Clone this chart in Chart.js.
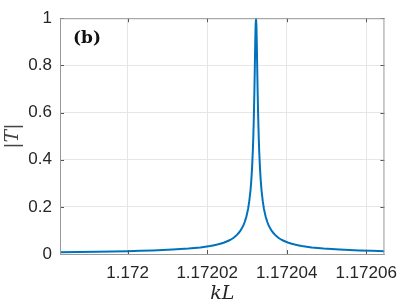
<!DOCTYPE html>
<html>
<head>
<meta charset="utf-8">
<script src="https://cdn.jsdelivr.net/npm/chart.js@4"></script>
<style>
    html, body { margin: 0; padding: 0; background: #fff; }
    #wrap { width: 407px; height: 307px; }
</style>
</head>
<body>
<div id="wrap"><canvas id="myChart" width="407" height="307"></canvas></div>
<script>
// values
const kL = [
    1.1719830, 1.1719923, 1.1720000, 1.1720063, 1.1720113, 1.1720153, 1.1720183,
    1.1720208, 1.1720228, 1.1720243, 1.1720255, 1.1720266, 1.1720275, 1.1720283,
    1.1720290, 1.1720295, 1.1720299, 1.1720303, 1.1720306, 1.1720309, 1.1720311,
    1.1720313, 1.1720315, 1.1720316, 1.1720317, 1.1720318, 1.1720319, 1.1720320,
    1.1720321, 1.1720322,
    1.1720323,
    1.1720324, 1.1720325, 1.1720326, 1.1720327, 1.1720328, 1.1720329, 1.1720330,
    1.1720331, 1.1720333, 1.1720335, 1.1720337, 1.1720340, 1.1720343, 1.1720347,
    1.1720351, 1.1720356, 1.1720363, 1.1720371, 1.1720380, 1.1720391, 1.1720403,
    1.1720418, 1.1720438, 1.1720463, 1.1720493, 1.1720533, 1.1720583, 1.1720646
];
const T = [
    0.0079, 0.0097, 0.0121, 0.0150, 0.0186, 0.0229, 0.0278,
    0.0339, 0.041, 0.0487, 0.0573, 0.068, 0.081, 0.097,
    0.117, 0.138, 0.160, 0.191, 0.224, 0.268, 0.309,
    0.363, 0.438, 0.487, 0.545, 0.615, 0.698, 0.793,
    0.890, 0.969,
    1.0,
    0.969, 0.890, 0.793, 0.698, 0.615, 0.545, 0.487,
    0.438, 0.363, 0.309, 0.268, 0.224, 0.191, 0.160,
    0.138, 0.117, 0.097, 0.081, 0.068, 0.0573, 0.0487,
    0.041, 0.0339, 0.0278, 0.0229, 0.0186, 0.0150, 0.0121
];
const xTicks = [1.172, 1.17202, 1.17204, 1.17206];
const yTicks = [0, 0.2, 0.4, 0.6, 0.8, 1];

const points = kL.map((x, i) => ({x: x, y: T[i]}));

// MATLAB style inward ticks + panel label
const extras = {
    id: 'extras',
    afterDraw(chart) {
        const ctx = chart.ctx;
        const a = chart.chartArea;
        const xs = chart.scales.x, ys = chart.scales.y;
        ctx.save();
        ctx.strokeStyle = '#555';
        ctx.lineWidth = 1;
        ctx.beginPath();
        xTicks.forEach(v => {
            const px = Math.round(xs.getPixelForValue(v)) + 0.5;
            ctx.moveTo(px, a.bottom); ctx.lineTo(px, a.bottom - 4);
            ctx.moveTo(px, a.top); ctx.lineTo(px, a.top + 4);
        });
        yTicks.forEach(v => {
            const py = Math.round(ys.getPixelForValue(v)) + 0.5;
            ctx.moveTo(a.left, py); ctx.lineTo(a.left + 4, py);
            ctx.moveTo(a.right, py); ctx.lineTo(a.right - 4, py);
        });
        ctx.stroke();
        ctx.strokeStyle = '#999';
        ctx.strokeRect(a.left + 0.5, a.top + 0.5, a.right - a.left - 1, a.bottom - a.top);
        ctx.fillStyle = '#111';
        ctx.font = 'bold 17px "DejaVu Serif", "Liberation Serif", serif';
        ctx.textBaseline = 'middle';
        ctx.fillText('(b)', a.left + 13, a.top + 20);
        ctx.restore();
    }
};

new Chart(document.getElementById('myChart'), {
    type: 'scatter',
    data: {
        datasets: [{
            data: points,
            showLine: true,
            borderColor: '#0072BD',
            borderWidth: 2,
            pointRadius: 0,
            tension: 0.05,   // non-zero so Chart.js skips its per-pixel fast path
            fill: false
        }]
    },
    options: {
        responsive: false,
        animation: false,
        layout: { padding: { top: 11, right: 20, left: 0, bottom: 0 } },
        plugins: { legend: { display: false }, tooltip: { enabled: false } },
        scales: {
            x: {
                type: 'linear',
                min: 1.171983,
                max: 1.1720646,
                afterBuildTicks: s => { s.ticks = xTicks.map(v => ({value: v})); },
                afterFit: s => { s.height = 53; },
                grid: { color: '#e6e6e6', drawTicks: false },
                border: { display: false },
                ticks: {
                    padding: 9,
                    color: '#262626',
                    font: { family: '"Liberation Sans", Arial, sans-serif', size: 17 },
                    callback: v => String(Number(v.toFixed(5)))
                },
                title: {
                    display: true,
                    text: 'kL',
                    color: '#262626',
                    font: { family: '"DejaVu Serif", "Liberation Serif", serif', size: 19, style: 'italic' },
                    padding: { top: 0, bottom: 2 }
                }
            },
            y: {
                min: 0,
                max: 1,
                afterBuildTicks: s => { s.ticks = yTicks.map(v => ({value: v})); },
                afterFit: s => { s.width = 60; },
                grid: { color: '#e6e6e6', drawTicks: false },
                border: { display: false },
                ticks: {
                    padding: 8,
                    color: '#262626',
                    font: { family: '"Liberation Sans", Arial, sans-serif', size: 17 },
                    callback: v => String(Number(v.toFixed(1)))
                },
                title: {
                    display: true,
                    text: '|T|',
                    color: '#444',
                    font: { family: '"DejaVu Serif", "Liberation Serif", serif', size: 19, style: 'italic' },
                    padding: { top: 2, bottom: 0 }
                }
            }
        }
    },
    plugins: [extras]
});
</script>
</body>
</html>
